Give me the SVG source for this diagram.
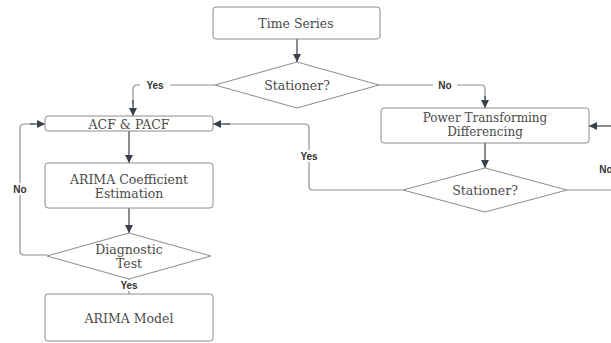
<svg xmlns="http://www.w3.org/2000/svg" width="611" height="343" viewBox="0 0 611 343">
<defs>
<marker id="ah" viewBox="0 0 10 10" refX="10" refY="5" markerWidth="8" markerHeight="8" markerUnits="userSpaceOnUse" orient="auto">
<path d="M0,0 L10,5 L0,10 z" fill="#3a3f4a"/>
</marker>
<style>
.box{fill:#fff;stroke:#8c8c8c;stroke-width:1}
.t{font-family:"DejaVu Serif","Liberation Serif",serif;font-size:12.5px;fill:#4a4a4a;text-anchor:middle;dominant-baseline:central}
.c{fill:none;stroke:#8a8f96;stroke-width:1.2}
.ca{fill:none;stroke:#3a3f4a;stroke-width:1.2;marker-end:url(#ah)}
.lb{font-family:"Liberation Sans",Arial,sans-serif;font-size:10px;font-weight:bold;fill:#333;text-anchor:middle;dominant-baseline:central}
</style>
</defs>
<rect width="611" height="343" fill="#fff"/>
<g id="connectors">
<path class="ca" d="M297,39 V62"/>
<path class="c" d="M215,85 H137 Q133,85 133,89 V104"/>
<path class="ca" d="M133,100 V116"/>
<path class="c" d="M379,85 H481 Q485,85 485,89 V100"/>
<path class="ca" d="M485,96 V108"/>
<path class="ca" d="M129,131 V163"/>
<path class="ca" d="M129,208 V233"/>
<path class="c" d="M47,255 H24 Q20,255 20,251 V128 Q20,124 24,124 H34"/>
<path class="ca" d="M30,124 H45"/>
<path class="c" d="M129,279 V294"/>
<path class="ca" d="M485,143 V168"/>
<path class="c" d="M403,190 H313 Q309,190 309,186 V128 Q309,124 305,124 H225"/>
<path class="ca" d="M230,124 H213"/>
<path class="c" d="M567,190 H615"/>
<path class="ca" d="M615,126 H589"/>
<rect x="140" y="79" width="30" height="12" fill="#fff"/>
<text class="lb" x="155" y="85">Yes</text>
<rect x="433" y="79" width="24" height="12" fill="#fff"/>
<text class="lb" x="445" y="85">No</text>
<rect x="8" y="183" width="24" height="12" fill="#fff"/>
<text class="lb" x="20" y="189">No</text>
<rect x="114" y="280" width="30" height="11" fill="#fff"/>
<text class="lb" x="129" y="285">Yes</text>
<rect x="294" y="150" width="30" height="12" fill="#fff"/>
<text class="lb" x="309" y="156">Yes</text>
<text class="lb" x="606" y="169" text-anchor="start">No</text>
</g>
<g id="time-series">
<rect class="box" x="213" y="7" width="167" height="32" rx="3"/>
<text class="t" x="296" y="23">Time Series</text>
</g>
<g id="stationer-1">
<polygon class="box" points="215,85 297,62 379,85 297,108"/>
<text class="t" x="297" y="85">Stationer?</text>
</g>
<g id="acf-pacf">
<rect class="box" x="45" y="116" width="168" height="15" rx="3"/>
<text class="t" x="129" y="124">ACF &amp; PACF</text>
</g>
<g id="arima-coef">
<rect class="box" x="45" y="163" width="168" height="45" rx="3"/>
<text class="t" x="129" y="179">ARIMA Coefficient</text>
<text class="t" x="129" y="193">Estimation</text>
</g>
<g id="diagnostic">
<polygon class="box" points="47,256 129,233 211,256 129,279"/>
<text class="t" x="129" y="249">Diagnostic</text>
<text class="t" x="129" y="263">Test</text>
</g>
<g id="arima-model">
<rect class="box" x="45" y="294" width="168" height="47" rx="3"/>
<text class="t" x="129" y="318">ARIMA Model</text>
</g>
<g id="power-transforming">
<rect class="box" x="381" y="108" width="208" height="35" rx="3"/>
<text class="t" x="485" y="117.5" style="font-size:12px">Power Transforming</text>
<text class="t" x="485" y="131.5" style="font-size:12px">Differencing</text>
</g>
<g id="stationer-2">
<polygon class="box" points="403,190 485,168 567,190 485,212"/>
<text class="t" x="485" y="190">Stationer?</text>
</g>
</svg>
